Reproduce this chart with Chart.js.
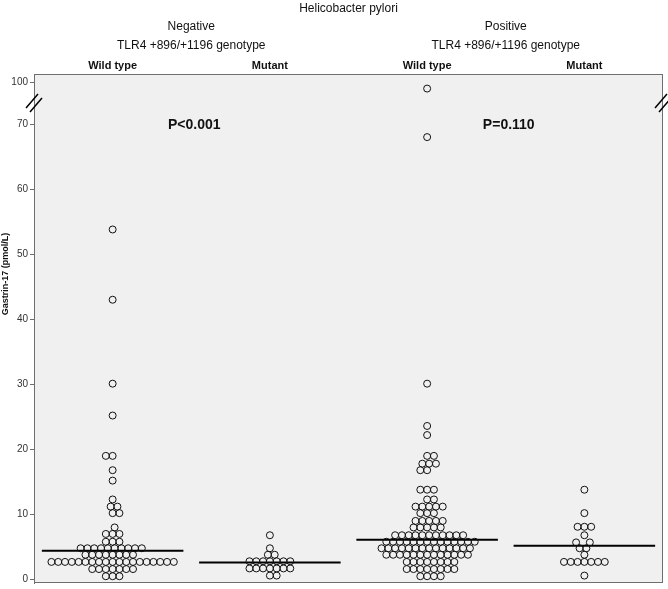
<!DOCTYPE html>
<html>
<head>
<meta charset="utf-8">
<script src="https://cdn.jsdelivr.net/npm/chart.js@4"></script>
<style>
  body { margin: 0; background: #fff; }
</style>
</head>
<body>
<canvas id="myChart" width="668" height="589"></canvas>
<script>
  // groups, left to right
  const groupLabels = ['Wild type', 'Mutant', 'Wild type', 'Mutant'];
  const hpLabels = ['Negative', 'Positive'];
  const pValues = ['P<0.001', 'P=0.110'];
  const yTicks = [0, 10, 20, 30, 40, 50, 60, 70, 100];

  // Gastrin-17 (pmol/L)
  const negWild = [
    0.5, 0.5, 0.5,
    1.6, 1.6, 1.6, 1.6, 1.6, 1.6, 1.6,
    2.7, 2.7, 2.7, 2.7, 2.7, 2.7, 2.7, 2.7, 2.7, 2.7,
    2.7, 2.7, 2.7, 2.7, 2.7, 2.7, 2.7, 2.7, 2.7,
    3.8, 3.8, 3.8, 3.8, 3.8, 3.8, 3.8, 3.8,
    4.8, 4.8, 4.8, 4.8, 4.8, 4.8, 4.8, 4.8, 4.8, 4.8,
    5.8, 5.8, 5.8,
    7.0, 7.0, 7.0,
    8.0,
    10.2, 10.2, 11.2, 11.2, 12.3,
    15.2, 16.8, 19.0, 19.0, 25.2, 30.1, 43.0, 53.8
  ];
  const negMutant = [
    0.6, 0.6,
    1.7, 1.7, 1.7, 1.7, 1.7, 1.7, 1.7,
    2.8, 2.8, 2.8, 2.8, 2.8, 2.8, 2.8,
    3.8, 3.8,
    4.8,
    6.8
  ];
  const posWild = [
    0.5, 0.5, 0.5, 0.5,
    1.6, 1.6, 1.6, 1.6, 1.6, 1.6, 1.6, 1.6,
    2.7, 2.7, 2.7, 2.7, 2.7, 2.7, 2.7, 2.7,
    3.8, 3.8, 3.8, 3.8, 3.8, 3.8, 3.8, 3.8, 3.8, 3.8, 3.8, 3.8, 3.8,
    4.8, 4.8, 4.8, 4.8, 4.8, 4.8, 4.8, 4.8, 4.8, 4.8, 4.8, 4.8, 4.8, 4.8,
    5.8, 5.8, 5.8, 5.8, 5.8, 5.8, 5.8, 5.8, 5.8, 5.8, 5.8, 5.8, 5.8, 5.8,
    6.8, 6.8, 6.8, 6.8, 6.8, 6.8, 6.8, 6.8, 6.8, 6.8, 6.8,
    8.0, 8.0, 8.0, 8.0, 8.0,
    9.0, 9.0, 9.0, 9.0, 9.0,
    10.2, 10.2, 10.2,
    11.2, 11.2, 11.2, 11.2, 11.2,
    12.3, 12.3,
    13.8, 13.8, 13.8,
    16.8, 16.8, 17.8, 17.8, 17.8, 19.0, 19.0,
    22.2, 23.6, 30.1, 68.0, 99.0
  ];
  const posMutant = [
    0.6,
    2.7, 2.7, 2.7, 2.7, 2.7, 2.7, 2.7,
    3.8,
    4.8, 4.8,
    5.7, 5.7,
    6.8,
    8.1, 8.1, 8.1,
    10.2,
    13.8
  ];
  const medians = [4.4, 2.6, 6.1, 5.2];

  // axis break: 100 sits just above 70
  const BREAK_AT = 70;
  const BREAK_SHIFT = 100 - 76.46;
  const toAxis = v => v > BREAK_AT ? v - BREAK_SHIFT : v;

  // beeswarm spread, done in pixels
  const DOT = 6.8, PX_X = 157.25, PX_Y = 6.5;
  function swarm(values, gi) {
    const placed = [];
    values.map(toAxis).sort((a, b) => a - b).forEach((v, i) => {
      const y = v * PX_Y;
      const near = placed.filter(p => Math.abs(p.y - y) < DOT);
      const cands = [0];
      near.forEach(p => {
        const dx = Math.sqrt(DOT * DOT - (p.y - y) ** 2);
        cands.push(p.x + dx, p.x - dx);
      });
      const side = i % 2 ? 1 : -1;
      cands.sort((a, b) => Math.abs(a) - Math.abs(b) || (b - a) * side);
      const x = cands.find(c => near.every(p => (p.x - c) ** 2 + (p.y - y) ** 2 >= DOT * DOT - 1e-6));
      placed.push({x, y});
    });
    return placed.map(p => ({x: gi + 0.5 + p.x / PX_X, y: p.y / PX_Y}));
  }

  const allGroups = [negWild, negMutant, posWild, posMutant];
  const dots = allGroups.flatMap((g, i) => swarm(g, i));

  const medianSets = medians.map((m, i) => ({
    type: 'line',
    data: [{x: i + 0.05, y: m}, {x: i + 0.95, y: m}],
    borderColor: '#000',
    borderWidth: 2,
    pointRadius: 0
  }));

  const FONT = '"Liberation Sans", Arial, sans-serif';

  const decor = {
    id: 'decor',
    beforeDraw(chart) {
      const {ctx, chartArea: a} = chart;
      ctx.save();
      ctx.fillStyle = '#fff';
      ctx.fillRect(0, 0, chart.width, chart.height);
      ctx.fillStyle = '#f0f0f0';
      ctx.fillRect(a.left, a.top, a.right - a.left, a.bottom - a.top);
      ctx.restore();
    },
    afterDraw(chart) {
      const {ctx, chartArea: a} = chart;
      const xs = chart.scales.x, ys = chart.scales.y;
      ctx.save();
      ctx.strokeStyle = '#6e6e6e';
      ctx.lineWidth = 1;
      ctx.strokeRect(a.left + 0.5, a.top + 0.5, a.right - a.left - 1, a.bottom - a.top - 1);

      // break marks on both sides
      const yb = (ys.getPixelForValue(BREAK_AT) + ys.getPixelForValue(toAxis(100))) / 2;
      ctx.strokeStyle = '#000';
      ctx.lineWidth = 1.5;
      [a.left, a.right].forEach(x0 => {
        [-2, 2].forEach(d => {
          ctx.beginPath();
          ctx.moveTo(x0 - 6 + d, yb + 7 + d);
          ctx.lineTo(x0 + 6 + d, yb - 7 + d);
          ctx.stroke();
        });
      });

      ctx.fillStyle = '#111';
      ctx.textAlign = 'center';
      ctx.textBaseline = 'middle';
      ctx.font = '12px ' + FONT;
      ctx.fillText('Helicobacter pylori', (a.left + a.right) / 2, 9);
      hpLabels.forEach((t, i) => {
        const cx = xs.getPixelForValue(i * 2 + 1);
        ctx.font = '12px ' + FONT;
        ctx.fillText(t, cx, 27);
        ctx.fillText('TLR4 +896/+1196 genotype', cx, 46);
        ctx.font = 'bold 14px ' + FONT;
        ctx.fillText(pValues[i], cx + 3, ys.getPixelForValue(BREAK_AT) + 1);
      });
      ctx.font = 'bold 11px ' + FONT;
      groupLabels.forEach((t, i) => ctx.fillText(t, xs.getPixelForValue(i + 0.5), 66));

      ctx.translate(6, 274);
      ctx.rotate(-Math.PI / 2);
      ctx.font = 'bold 9px ' + FONT;
      ctx.fillText('Gastrin-17 (pmol/L)', 0, 0);
      ctx.restore();
    }
  };

  new Chart(document.getElementById('myChart'), {
    type: 'scatter',
    data: {
      datasets: [{
        data: dots,
        pointRadius: 3.5,
        pointBorderWidth: 1,
        pointBorderColor: '#111',
        pointBackgroundColor: 'rgba(0,0,0,0)'
      }, ...medianSets]
    },
    options: {
      responsive: false,
      animation: false,
      layout: {padding: {top: 74, right: 5, bottom: 6, left: 0}},
      plugins: {legend: {display: false}, tooltip: {enabled: false}},
      scales: {
        x: {type: 'linear', min: 0, max: 4, display: false},
        y: {
          min: -0.54,
          max: 77.7,
          afterFit: s => { s.width = 34; s.paddingTop = 0; s.paddingBottom = 0; },
          afterBuildTicks: s => { s.ticks = yTicks.map(t => ({value: toAxis(t)})); },
          ticks: {
            font: {family: FONT, size: 10},
            color: '#333',
            padding: 2,
            callback: v => v > BREAK_AT ? 100 : v
          },
          grid: {drawOnChartArea: false, tickLength: 4, color: '#6e6e6e'},
          border: {color: '#6e6e6e'}
        }
      }
    },
    plugins: [decor]
  });
</script>
</body>
</html>
